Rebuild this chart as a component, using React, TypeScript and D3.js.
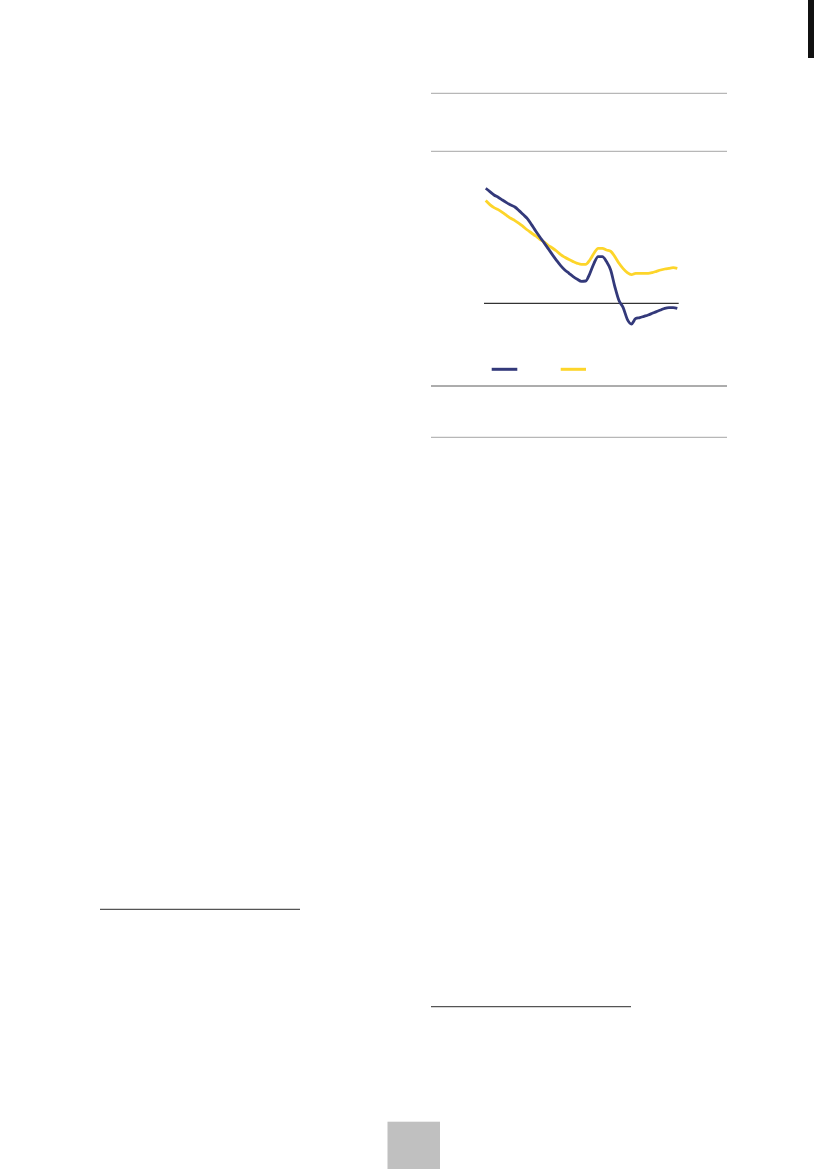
import React from "react";
import * as d3 from "d3";

// period index (equally spaced observations)
const periods: number[] = d3.range(0, 47);

// navy series
const seriesA: number[] = [
  11.5, 11.17, 10.83, 10.6, 10.33, 10.07, 9.83, 9.63, 9.27, 8.87, 8.47, 7.87,
  7.23, 6.63, 6.07, 5.47, 4.87, 4.3, 3.77, 3.33, 3.0, 2.67, 2.4, 2.2, 2.23,
  2.97, 4.0, 4.67, 4.67, 4.17, 3.33, 1.67, 0.27, -0.43, -1.6, -2.07, -1.53,
  -1.43, -1.3, -1.17, -1.0, -0.83, -0.67, -0.5, -0.43, -0.43, -0.5,
];

// yellow series
const seriesB: number[] = [
  10.27, 9.87, 9.57, 9.37, 9.1, 8.8, 8.5, 8.27, 8.0, 7.67, 7.33, 7.03, 6.73,
  6.4, 6.13, 5.8, 5.53, 5.23, 4.87, 4.6, 4.37, 4.17, 4.0, 3.9, 3.9, 4.33, 5.0,
  5.5, 5.5, 5.33, 5.2, 4.67, 4.0, 3.47, 3.07, 2.87, 3.0, 3.0, 3.0, 3.0, 3.07,
  3.2, 3.33, 3.43, 3.5, 3.57, 3.5,
];

const NAVY = "#33397a";
const YELLOW = "#fdd52a";

export default function App() {
  const x = d3.scaleLinear().domain([0, 46]).range([485.7, 677.3]);
  const y = d3.scaleLinear().domain([-3, 12]).range([333.3, 183.3]);

  const line = d3
    .line<number>()
    .x((_, i) => x(periods[i]))
    .y((d) => y(d))
    .curve(d3.curveMonotoneX);

  return (
    <svg
      width={827}
      height={1169}
      viewBox="0 0 827 1169"
      style={{ position: "absolute", left: 0, top: 0, background: "#fff" }}
    >
      <rect x={0} y={0} width={827} height={1169} fill="#fff" />
      {/* top-right tab */}
      <rect x={808} y={0} width={6} height={58} fill="#111" />

      {/* frame rules around chart */}
      <line x1={431} x2={727} y1={93.3} y2={93.3} stroke="#a6a6a6" strokeWidth={1} />
      <line x1={431} x2={727} y1={151.3} y2={151.3} stroke="#a6a6a6" strokeWidth={1} />
      <line x1={431} x2={727} y1={386} y2={386} stroke="#5a5a5a" strokeWidth={1} />
      <line x1={431} x2={727} y1={437.3} y2={437.3} stroke="#a6a6a6" strokeWidth={1} />

      {/* zero line */}
      <line x1={484} x2={678.7} y1={y(0)} y2={y(0)} stroke="#000" strokeWidth={1} />

      {/* series */}
      <path d={line(seriesB) || ""} fill="none" stroke={YELLOW} strokeWidth={2.8} strokeLinejoin="round" />
      <path d={line(seriesA) || ""} fill="none" stroke={NAVY} strokeWidth={2.8} strokeLinejoin="round" />

      {/* legend */}
      <line x1={491.7} x2={517.3} y1={369.3} y2={369.3} stroke={NAVY} strokeWidth={3} />
      <line x1={560.7} x2={586} y1={369.3} y2={369.3} stroke={YELLOW} strokeWidth={3} />

      {/* footnote rules */}
      <line x1={100} x2={300} y1={909.3} y2={909.3} stroke="#555" strokeWidth={1.2} />
      <line x1={431} x2={631} y1={1006.7} y2={1006.7} stroke="#555" strokeWidth={1.2} />

      {/* page number box */}
      <rect x={387.5} y={1121.7} width={52.5} height={48} fill="#c0c0c0" />
    </svg>
  );
}
